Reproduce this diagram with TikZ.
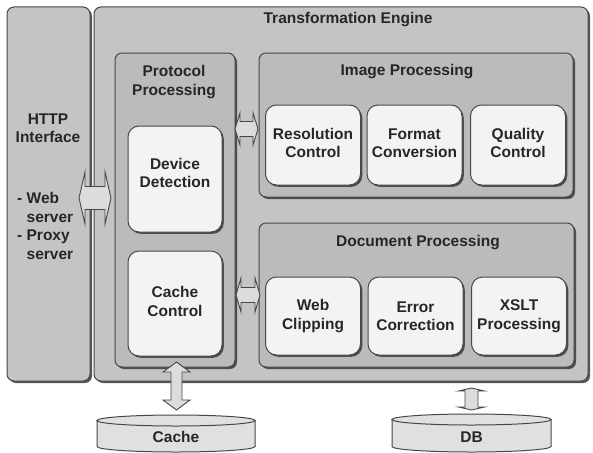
\documentclass[tikz,border=0pt]{standalone}
\usepackage{fontspec}
\setmainfont{Liberation Sans}
\usetikzlibrary{shadows,calc}
\definecolor{outerfill}{HTML}{C4C4C4}
\definecolor{panelfill}{HTML}{BBBBBB}
\definecolor{boxfill}{HTML}{F3F3F3}
\definecolor{edge}{HTML}{474747}
\definecolor{shad}{HTML}{3A3A3A}
\definecolor{txt}{HTML}{262626}
\definecolor{arrfill}{HTML}{DCDCDC}
\definecolor{cylfill}{HTML}{E0E0E0}
\newcommand{\lblfont}{\fontsize{15.5}{18.5}\selectfont\bfseries}
\newcommand{\hdarrow}[7]{% cx cy halflen headlen bodyhalf headhalf name
  \coordinate (#7) at (#1,#2);
  \filldraw[blk,shift={(#7)}] (-#3,0) -- ({-#3+#4},-#6) -- ({-#3+#4},-#5) -- ({#3-#4},-#5) -- ({#3-#4},-#6) -- (#3,0)
    -- ({#3-#4},#6) -- ({#3-#4},#5) -- ({-#3+#4},#5) -- ({-#3+#4},#6) -- cycle;}
\newcommand{\vdarrow}[7]{%
  \coordinate (#7) at (#1,#2);
  \filldraw[blk,shift={(#7)}] (0,-#3) -- (-#6,{-#3+#4}) -- (-#5,{-#3+#4}) -- (-#5,{#3-#4}) -- (-#6,{#3-#4}) -- (0,#3)
    -- (#6,{#3-#4}) -- (#5,{#3-#4}) -- (#5,{-#3+#4}) -- (#6,{-#3+#4}) -- cycle;}
\tikzset{
  outerbox/.style={draw=edge, line width=1pt, fill=outerfill, rounded corners=7pt, inner sep=0pt,
    drop shadow={shadow xshift=2pt, shadow yshift=-2pt, fill=shad, opacity=0.85}},
  panel/.style={draw=edge, line width=1pt, fill=panelfill, rounded corners=7pt, inner sep=0pt,
    drop shadow={shadow xshift=2pt, shadow yshift=-2pt, fill=shad, opacity=0.85}},
  wbox/.style={draw=edge, line width=1pt, fill=boxfill, rounded corners=11pt, inner sep=0pt,
    minimum width=95pt, align=center, font=\lblfont, text=txt,
    drop shadow={shadow xshift=1.8pt, shadow yshift=-1.8pt, fill=shad, opacity=0.85}},
  lbl/.style={font=\lblfont, text=txt, align=center, inner sep=0pt},
  blk/.style={draw=edge, line width=0.9pt, fill=arrfill, line join=miter},
  cyl/.style={draw=edge, line width=1pt, fill=cylfill},
}
\begin{document}
\begin{tikzpicture}[x=1pt,y=-1pt]
\useasboundingbox[fill=white] (0,0) rectangle (593,452);
% outer boxes
\node[outerbox, minimum width=83pt, minimum height=374pt] (http) at (48.5,194) {};
\node[outerbox, minimum width=494pt, minimum height=374pt] (engine) at (341,194) {};
% panels
\node[panel, minimum width=120pt, minimum height=314pt] (proto) at (175,210) {};
\node[panel, minimum width=314pt, minimum height=144pt] (imgp) at (416,125) {};
\node[panel, minimum width=315pt, minimum height=144pt] (docp) at (416.5,295) {};
% white boxes
\node[wbox, minimum width=94pt, minimum height=106pt] (device) at (175,179) {};
\node[lbl] (deviceT) at ($(device.center)+(0,-6)$) {Device\\Detection};
\node[wbox, minimum width=94pt, minimum height=105pt] (cachectl) at (175,303.5) {};
\node[lbl] (cachectlT) at ($(cachectl.center)+(0,-2)$) {Cache\\Control};
\node[wbox, minimum height=80pt] (res) at (313,145) {};
\node[lbl] (resT) at ($(res.center)+(0,-2)$) {Resolution\\Control};
\node[wbox, minimum height=80pt] (fmt) at (414.5,145) {};
\node[lbl] (fmtT) at ($(fmt.center)+(0,-2)$) {Format\\Conversion};
\node[wbox, minimum height=80pt] (qual) at (518,145) {};
\node[lbl] (qualT) at ($(qual.center)+(0,-2)$) {Quality\\Control};
\node[wbox, minimum height=78pt] (web) at (313,316) {Web\\Clipping};
\node[wbox, minimum height=78pt] (err) at (415.5,316) {Error\\Correction};
\node[wbox, minimum height=78pt] (xslt) at (519,316) {XSLT\\Processing};
% titles
\node[lbl] (tEng) at (348,20) {Transformation Engine};
\node[lbl] (tProto) at (174,82) {Protocol\\Processing};
\node[lbl] (tImg) at (407,72) {Image Processing};
\node[lbl] (tDoc) at (418,243) {Document Processing};
\node[lbl] (tHttp) at (48,128) {HTTP\\Interface};
\node[lbl, align=left, anchor=west] (tList) at (17,226) {-~Web\\\phantom{-~}server\\-~Proxy\\\phantom{-~}server};
% cylinders
\filldraw[cyl] (97,420.5) -- (97,446.5) arc[start angle=180, end angle=360, x radius=79pt, y radius=5.5pt] -- (255,420.5) -- cycle;
\filldraw[cyl] (176,420.5) ellipse[x radius=79pt, y radius=5.5pt];
\node[lbl] (cache) at (176,437) {Cache};
\filldraw[cyl] (392,419.5) -- (392,446.5) arc[start angle=180, end angle=360, x radius=79.5pt, y radius=5.5pt] -- (551,419.5) -- cycle;
\filldraw[cyl] (471.5,419.5) ellipse[x radius=79.5pt, y radius=5.5pt];
\node[lbl] (db) at (471.5,437) {DB};
% block arrows
\hdarrow{95}{198}{16}{6}{11.5}{26}{a1}
\hdarrow{246.5}{129}{11.5}{5}{7.5}{16}{a2}
\hdarrow{248}{295}{12}{5}{7.5}{17}{a3}
\vdarrow{176.5}{386}{24}{10}{5.5}{13.5}{a4}
\vdarrow{471.5}{399}{11}{3}{6.5}{13}{a5}
\end{tikzpicture}
\end{document}
